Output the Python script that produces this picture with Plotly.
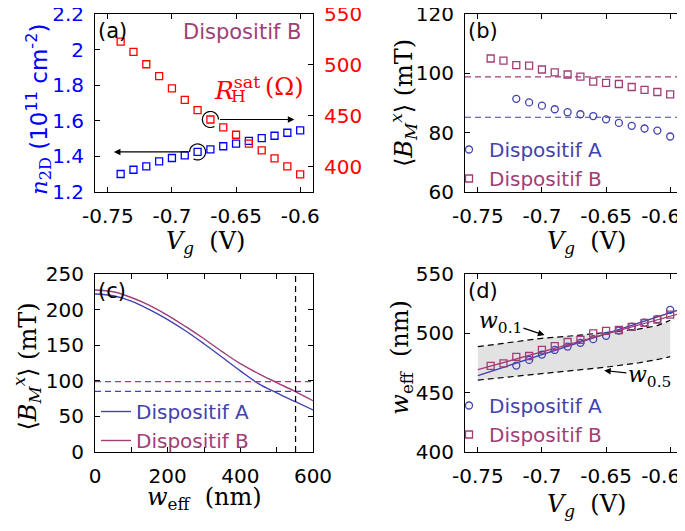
import numpy as np
import plotly.graph_objects as go

# ---- data ----
vg = [-0.74, -0.73, -0.72, -0.71, -0.70, -0.69, -0.68, -0.67, -0.66, -0.65,
      -0.64, -0.63, -0.62, -0.61, -0.60]
vg_A = vg[2:]
vg_ticks = [-0.75, -0.70, -0.65, -0.60]
vg_labels = ["-0.75", "-0.7", "-0.65", "-0.6"]

# (a) dispositif B
n2d = [1.301, 1.325, 1.344, 1.372, 1.391, 1.406, 1.425, 1.440, 1.457, 1.472,
       1.487, 1.503, 1.516, 1.533, 1.546]
rh_sat = [522.9, 512.7, 500.6, 488.9, 476.8, 465.6, 455.5, 446.3, 438.5, 431.3,
          422.5, 415.9, 408.1, 400.2, 392.4]

# (b) <B_M^x>
bm_A = [91.4, 90.2, 89.1, 87.9, 86.9, 86.2, 85.6, 84.5, 83.3, 82.3, 81.4, 80.7, 78.7]
bm_B = [105.0, 104.3, 102.8, 102.6, 101.3, 100.3, 99.6, 98.9, 97.2, 96.8,
        96.4, 95.4, 94.4, 93.7, 92.9]
bm_mean_A = 85.2
bm_mean_B = 98.8

# (c) <B_M^x> vs w_eff
w_eff = [0, 50, 100, 150, 200, 250, 300, 350, 400, 450, 500, 550, 600]
bw_A = [222, 219.5, 212, 200, 186, 170, 152, 133, 114, 96, 83, 71, 59]
bw_B = [227.5, 225, 217, 206, 192, 176, 159, 141, 124, 110, 97.5, 85.2, 72]
w_ref = 552

# (d) w_eff vs V_g
weff_A = [472.8, 477.6, 482.1, 486.0, 488.8, 492.0, 495.1, 497.9, 502.4, 505.7,
          509.1, 511.9, 519.8]
weff_B = [472.5, 474.7, 480.1, 480.9, 486.0, 489.3, 492.7, 494.5, 500.0, 502.0,
          502.8, 505.5, 508.8, 511.6, 515.7]
fit_vg = [-0.75, -0.59]
fit_A = [464.3, 520.8]
fit_B = [469.4, 517.4]
bound_vg = [-0.75, -0.725, -0.70, -0.675, -0.65, -0.625, -0.61, -0.605, -0.60]
w01 = [488.8, 492.5, 495.8, 498.0, 500.5, 503.5, 506.5, 508.5, 511.0]
w05 = [460.6, 463.3, 466.0, 468.5, 471.5, 475.0, 477.8, 479.0, 480.4]

# ---- style ----
COL_A = "rgb(66,66,176)"
COL_B = "rgb(160,62,118)"
SANS = "DejaVu Sans"
SERIF = "DejaVu Serif"

W, H = 685, 531
OFF = 8  # the page body adds an 8px margin; shift everything back by it


def px(x):
    return (x - OFF) / W


def py(y):
    return 1 - (y - OFF) / H


fig = go.Figure()

# (a)
fig.add_trace(go.Scatter(x=vg, y=n2d, mode="markers", xaxis="x", yaxis="y",
                         marker=dict(symbol="square-open", size=7, color="rgb(0,0,255)",
                                     line=dict(width=1.3)), showlegend=False))
fig.add_trace(go.Scatter(x=vg, y=rh_sat, mode="markers", xaxis="x", yaxis="y5",
                         marker=dict(symbol="square-open", size=7, color="rgb(255,0,0)",
                                     line=dict(width=1.3)), showlegend=False))

# (b)
fig.add_trace(go.Scatter(x=vg_A, y=bm_A, mode="markers", xaxis="x2", yaxis="y2",
                         name="<span style='color:%s'>Dispositif A</span>" % COL_A,
                         legend="legend",
                         marker=dict(symbol="circle-open", size=7, color=COL_A,
                                     line=dict(width=1.3))))
fig.add_trace(go.Scatter(x=vg, y=bm_B, mode="markers", xaxis="x2", yaxis="y2",
                         name="<span style='color:%s'>Dispositif B</span>" % COL_B,
                         legend="legend",
                         marker=dict(symbol="square-open", size=7, color=COL_B,
                                     line=dict(width=1.3))))

# (c)
fig.add_trace(go.Scatter(x=w_eff, y=bw_A, mode="lines", xaxis="x3", yaxis="y3",
                         line=dict(color=COL_A, width=1.4, shape="spline"),
                         name="<span style='color:%s'>Dispositif A</span>" % COL_A,
                         legend="legend2"))
fig.add_trace(go.Scatter(x=w_eff, y=bw_B, mode="lines", xaxis="x3", yaxis="y3",
                         line=dict(color=COL_B, width=1.4, shape="spline"),
                         name="<span style='color:%s'>Dispositif B</span>" % COL_B,
                         legend="legend2"))

# (d)
fig.add_trace(go.Scatter(x=bound_vg, y=w05, mode="lines", xaxis="x4", yaxis="y4",
                         line=dict(color="black", width=1.2, dash="6px,4px"),
                         showlegend=False))
fig.add_trace(go.Scatter(x=bound_vg, y=w01, mode="lines", xaxis="x4", yaxis="y4",
                         fill="tonexty", fillcolor="rgb(226,226,226)",
                         line=dict(color="black", width=1.2, dash="6px,4px"),
                         showlegend=False))
fig.add_trace(go.Scatter(x=fit_vg, y=fit_A, mode="lines", xaxis="x4", yaxis="y4",
                         line=dict(color=COL_A, width=1.4), showlegend=False))
fig.add_trace(go.Scatter(x=fit_vg, y=fit_B, mode="lines", xaxis="x4", yaxis="y4",
                         line=dict(color=COL_B, width=1.4), showlegend=False))
fig.add_trace(go.Scatter(x=vg_A, y=weff_A, mode="markers", xaxis="x4", yaxis="y4",
                         name="<span style='color:%s'>Dispositif A</span>" % COL_A,
                         legend="legend3",
                         marker=dict(symbol="circle-open", size=7, color=COL_A,
                                     line=dict(width=1.3))))
fig.add_trace(go.Scatter(x=vg, y=weff_B, mode="markers", xaxis="x4", yaxis="y4",
                         name="<span style='color:%s'>Dispositif B</span>" % COL_B,
                         legend="legend3",
                         marker=dict(symbol="square-open", size=7, color=COL_B,
                                     line=dict(width=1.3))))

dom_left = [px(95), px(313)]
dom_right = [px(465), px(683)]
dom_top = [py(192), py(14)]
dom_bot = [py(452), py(274)]

axis_common = dict(showline=True, linecolor="black", linewidth=1, mirror="ticks",
                   ticks="inside", ticklen=5, tickcolor="black", showgrid=False,
                   zeroline=False, automargin=False, ticklabeloverflow="allow",
                   tickfont=dict(family=SANS, size=20, color="black"),
                   ticklabelstandoff=6)

vg_axis = dict(axis_common, range=[-0.76, -0.59], tickvals=vg_ticks, ticktext=vg_labels)
# right-hand panels: last label nudged left so it stays inside the page
vg_axis_r = dict(vg_axis, ticktext=vg_labels[:-1] + [vg_labels[-1] + "\u00a0" * 3])

leg = dict(xanchor="left", yanchor="top", bgcolor="rgba(0,0,0,0)",
           font=dict(family=SANS, size=20), tracegroupgap=0, traceorder="normal")

fig.update_layout(
    template="none",
    width=W, height=H, margin=dict(l=0, r=0, t=0, b=0, autoexpand=False),
    paper_bgcolor="white", plot_bgcolor="white",
    xaxis=dict(vg_axis, domain=dom_left, anchor="y"),
    yaxis=dict(axis_common, domain=dom_top, anchor="x", range=[1.2, 2.2], mirror=True,
               tickvals=[1.2, 1.4, 1.6, 1.8, 2.0, 2.2],
               ticktext=["1.2", "1.4", "1.6", "1.8", "2", "2.2"],
               tickfont=dict(family=SANS, size=20, color="rgb(0,0,255)")),
    yaxis5=dict(axis_common, overlaying="y", side="right", anchor="x", range=[375, 550],
                mirror=False, tickvals=[400, 450, 500, 550],
                tickfont=dict(family=SANS, size=20, color="rgb(255,0,0)")),
    xaxis2=dict(vg_axis_r, domain=dom_right, anchor="y2"),
    yaxis2=dict(axis_common, domain=dom_top, anchor="x2", range=[60, 120],
                tickvals=[60, 80, 100, 120]),
    xaxis3=dict(axis_common, domain=dom_left, anchor="y3", range=[0, 600],
                tickvals=[0, 100, 200, 300, 400, 500, 600],
                ticktext=["0", "", "200", "", "400", "", "600"]),
    yaxis3=dict(axis_common, domain=dom_bot, anchor="x3", range=[0, 250],
                tickvals=[0, 50, 100, 150, 200, 250]),
    xaxis4=dict(vg_axis_r, domain=dom_right, anchor="y4"),
    yaxis4=dict(axis_common, domain=dom_bot, anchor="x4", range=[400, 550],
                tickvals=[400, 450, 500, 550]),
    legend=dict(leg, x=px(449), y=py(130)),
    legend2=dict(leg, x=px(96), y=py(392)),
    legend3=dict(leg, x=px(449), y=py(386)),
)

# reference lines
dash = dict(width=1.2, dash="6px,4px")
for xr, yr in [("x2 domain", "y2"), ("x3 domain", "y3")]:
    fig.add_shape(type="line", xref=xr, yref=yr, x0=0, x1=1, y0=bm_mean_A, y1=bm_mean_A,
                  line=dict(dash, color=COL_A))
    fig.add_shape(type="line", xref=xr, yref=yr, x0=0, x1=1, y0=bm_mean_B, y1=bm_mean_B,
                  line=dict(dash, color=COL_B))
fig.add_shape(type="line", xref="x3", yref="y3 domain", x0=w_ref, x1=w_ref, y0=0, y1=1,
              line=dict(dash, color="black"))


# small open circles ("C" shapes) marking which axis belongs to which series in (a)
def arc_path(a0, a1, r=8):
    t = np.radians(np.linspace(a0, a1, 40))
    pts = ["%s %.2f %.2f" % ("M" if i == 0 else "L", r * np.cos(v), r * np.sin(v))
           for i, v in enumerate(t)]
    return " ".join(pts)


fig.add_shape(type="path", xref="x", yref="y5", xsizemode="pixel", ysizemode="pixel",
              xanchor=vg[7], yanchor=rh_sat[7], path=arc_path(0, 300),
              line=dict(color="black", width=1.2))
fig.add_shape(type="path", xref="x", yref="y", xsizemode="pixel", ysizemode="pixel",
              xanchor=vg[6], yanchor=n2d[6], path=arc_path(180, -120),
              line=dict(color="black", width=1.2))


def arrow(xref, yref, x, y, ax, ay):
    fig.add_annotation(xref=xref, yref=yref, axref=xref, ayref=yref, x=x, y=y, ax=ax, ay=ay,
                       text="", showarrow=True, arrowhead=2, arrowsize=1.1,
                       arrowwidth=1.2, arrowcolor="black")


arrow("x", "y5", -0.6045, rh_sat[7], vg[7] + 0.0062, rh_sat[7])
arrow("x", "y", -0.7453, n2d[6], vg[6] - 0.0062, n2d[6])
arrow("x4", "y4", -0.698, 498.5, -0.7156, 504.8)
arrow("x4", "y4", -0.6515, 468.6, -0.633, 466.6)


def text(xref, yref, x, y, s, size=21, color="black", family=SANS, xanchor="center",
         yanchor="middle", xshift=0, yshift=0, angle=0):
    fig.add_annotation(xref=xref, yref=yref, x=x, y=y, text=s, showarrow=False,
                       font=dict(family=family, size=size, color=color),
                       xanchor=xanchor, yanchor=yanchor, xshift=xshift, yshift=yshift,
                       textangle=angle)


# panel labels
for xr, yr, lab in [("x domain", "y domain", "(a)"), ("x2 domain", "y2 domain", "(b)"),
                    ("x3 domain", "y3 domain", "(c)"), ("x4 domain", "y4 domain", "(d)")]:
    text(xr, yr, 0.0, 1.0, lab, size=21, xanchor="left", yanchor="top", xshift=1, yshift=-3)

text("x domain", "y domain", 0.955, 0.90, "Dispositif B", color=COL_B, xanchor="right")
# R_H^sat (Ohm): superscript and subscript stacked
RED = "rgb(255,0,0)"
text("paper", "paper", px(212), py(88), "<i>R</i><sup>sat</sup>", size=25, color=RED,
     family=SERIF, xanchor="left")
text("paper", "paper", px(229), py(96), "H", size=17, color=RED, family=SERIF,
     xanchor="left")
text("paper", "paper", px(284), py(87), "(Ω)", size=24, color=RED, family=SERIF)
text("x4", "y4", -0.7324, 509, "<i>w</i><sub>0.1</sub>", size=22, family=SERIF)
text("x4", "y4", -0.6164, 464, "<i>w</i><sub>0.5</sub>", size=22, family=SERIF)

# axis titles
vg_title = "<i>V</i><sub><i>g</i></sub>  (V)"
bm_title = "⟨<i>B</i><sub><i>M</i></sub><sup><i>x</i></sup>⟩ (mT)"
text("x domain", "y domain", 0.508, 0, vg_title, size=24, family=SERIF, yshift=-50)
text("x2 domain", "y2 domain", 0.558, 0, vg_title, size=24, family=SERIF, yshift=-50)
text("x3 domain", "y3 domain", 0.5, 0, "<i>w</i><sub>eff</sub>  (nm)", size=24, family=SERIF,
     yshift=-46)
text("x4 domain", "y4 domain", 0.558, 0, vg_title, size=24, family=SERIF, yshift=-53)
text("x domain", "y domain", 0, 0.466,
     "<i>n</i><sub>2D</sub> <span style='font-family:DejaVu Sans'>(10<sup>11</sup> cm<sup>-2</sup>)</span>",
     size=23, color="rgb(0,0,255)", family=SERIF, angle=-90, xshift=-57)
text("x2 domain", "y2 domain", 0, 0.5, bm_title, size=24, family=SERIF, angle=-90, xshift=-62)
text("x3 domain", "y3 domain", 0, 0.48, bm_title, size=24, family=SERIF, angle=-90, xshift=-68)
text("x4 domain", "y4 domain", 0, 0.53, "<i>w</i><sub>eff</sub>  (nm)", size=24, family=SERIF,
     angle=-90, xshift=-63)

fig.write_html("out.html")
